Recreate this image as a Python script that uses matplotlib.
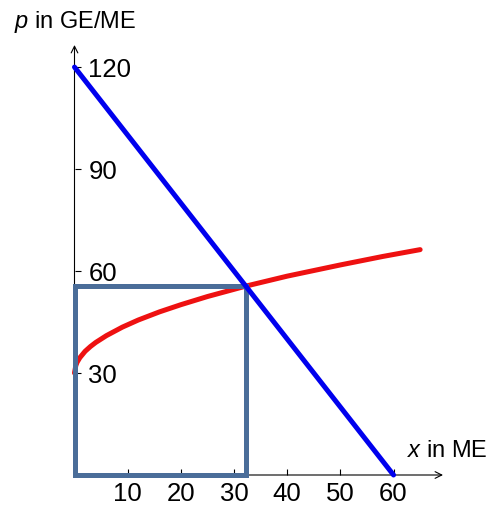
import matplotlib
matplotlib.use("Agg")
import matplotlib.pyplot as plt
from matplotlib.patches import Rectangle

plt.rcParams['font.family'] = ['Liberation Sans', 'DejaVu Sans']
plt.rcParams['mathtext.fontset'] = 'custom'
plt.rcParams['mathtext.it'] = 'Liberation Sans:italic'
plt.rcParams['mathtext.rm'] = 'Liberation Sans'

# demand line (blue)
demand_x = [0, 60]
demand_p = [120, 0]

# supply curve (red)
supply_x = [0, 0.25, 0.5, 1, 2, 3, 4, 6, 9, 12, 16, 20, 25, 32.3, 40, 50, 58, 65]
supply_p = [30, 32.2, 33.2, 34.5, 36.4, 37.8, 39.0, 41.0, 43.5, 45.6, 48.0, 50.1, 52.5, 55.6, 58.5, 61.8, 64.3, 66.3]

# equilibrium quantity / price (rectangle)
eq_x = 32.3
eq_p = 55.6

x_ticks = [10, 20, 30, 40, 50, 60]
y_ticks = [30, 60, 90, 120]

W, H = 493, 511
fig = plt.figure(figsize=(W / 100, H / 100), dpi=100)
left, right, bottom, top = 74.5, 443, 475, 45
ax = fig.add_axes([left / W, (H - bottom) / H, (right - left) / W, (bottom - top) / H])
ax.set_xlim(0, 69.3)
ax.set_ylim(0, 126.5)

for s in ax.spines.values():
    s.set_visible(False)

# axes with arrows
ax.annotate('', xy=(1, 0), xytext=(0, 0), xycoords='axes fraction',
            arrowprops=dict(arrowstyle='->', lw=0.8, color='black', shrinkA=0, shrinkB=0,
                            mutation_scale=12), annotation_clip=False)
ax.annotate('', xy=(0, 1), xytext=(0, 0), xycoords='axes fraction',
            arrowprops=dict(arrowstyle='->', lw=0.8, color='black', shrinkA=0, shrinkB=0,
                            mutation_scale=12), annotation_clip=False)

ax.plot(supply_x, supply_p, color='#ee1111', lw=3.6, solid_capstyle='round', zorder=3, clip_on=False)
ax.add_patch(Rectangle((0, 0), eq_x, eq_p, fill=False, edgecolor='#4a6d99', lw=3.6, zorder=4, clip_on=False))
ax.plot(demand_x, demand_p, color='#0000ee', lw=3.6, solid_capstyle='round', zorder=5, clip_on=False)

ax.set_xticks(x_ticks)
ax.set_yticks(y_ticks)
ax.tick_params(axis='x', direction='in', length=4, width=0.8, pad=5, labelsize=18.5)
ax.tick_params(axis='y', direction='in', length=4, width=0.8, pad=-10, labelsize=18.5)
for lab in ax.get_yticklabels():
    lab.set_horizontalalignment('left')

fig.text(14 / W, 1 - 22 / H, r'$p$ in GE/ME', fontsize=17, va='center', ha='left')
fig.text(488 / W, 1 - 451 / H, r'$x$ in ME', fontsize=17, va='center', ha='right')

fig.savefig('out.png', dpi=100, facecolor='white')
